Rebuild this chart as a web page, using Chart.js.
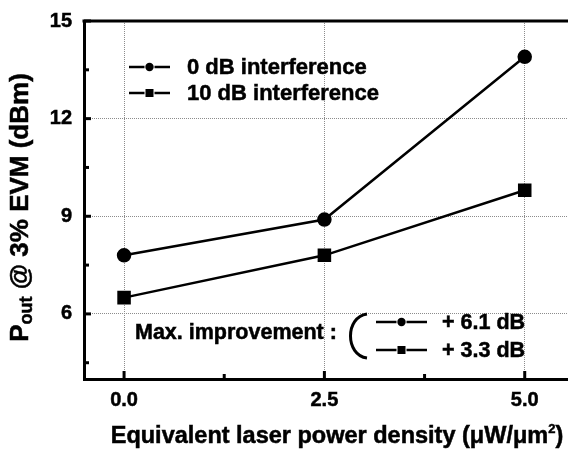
<!DOCTYPE html>
<html>
<head>
<meta charset="utf-8">
<script src="https://cdn.jsdelivr.net/npm/chart.js@4/dist/chart.umd.min.js"></script>
<style>
    html, body { margin: 0; padding: 0; background: #fff; overflow: hidden; }
    #wrap { width: 568px; height: 449px; }
</style>
</head>
<body>
<div id="wrap"><canvas id="evm-chart" width="568" height="449"></canvas></div>
<script>
// Chart data
const laserDensity = [0.0, 2.5, 5.0];
const pout0dB = [7.8, 8.9, 13.9];
const pout10dB = [6.5, 7.8, 9.8];
const seriesNames = ['0 dB interference', '10 dB interference'];
const improvements = ['+ 6.1 dB', '+ 3.3 dB'];

// Axis ticks
const xTicks = [0.0, 2.5, 5.0];
const xMinorTicks = [1.25, 3.75];
const yTicks = [6, 9, 12, 15];
const yMinorTicks = [4.5, 7.5, 10.5, 13.5];

const FONT = '"Liberation Sans", Arial, Helvetica, sans-serif';

function toPoints(values) {
    return laserDensity.map((x, i) => ({ x: x, y: values[i] }));
}

// bold text with a thin outline so it looks as heavy as the original
function heavyText(ctx, text, x, y) {
    ctx.fillText(text, x, y);
    ctx.lineWidth = 0.5;
    ctx.strokeText(text, x, y);
}

// Draws the top frame line, inward tick marks, axis titles, legend and annotation
const decorations = {
    id: 'decorations',
    afterDraw(chart) {
        const ctx = chart.ctx;
        const area = chart.chartArea;
        const xs = chart.scales.x;
        const ys = chart.scales.y;

        ctx.save();
        ctx.strokeStyle = '#000';
        ctx.fillStyle = '#000';

        // top frame line
        ctx.lineWidth = 3;
        ctx.beginPath();
        ctx.moveTo(area.left - 1.5, area.top);
        ctx.lineTo(area.right, area.top);
        ctx.stroke();

        // inward ticks
        const tick = (x1, y1, x2, y2) => {
            ctx.beginPath();
            ctx.moveTo(x1, y1);
            ctx.lineTo(x2, y2);
            ctx.stroke();
        };
        ctx.lineWidth = 3;
        yTicks.forEach(v => { const y = ys.getPixelForValue(v); tick(area.left, y, area.left + 7, y); });
        yMinorTicks.forEach(v => { const y = ys.getPixelForValue(v); tick(area.left, y, area.left + 5, y); });
        xTicks.forEach(v => { const x = xs.getPixelForValue(v); tick(x, area.bottom, x, area.bottom - 8); });
        xMinorTicks.forEach(v => { const x = xs.getPixelForValue(v); tick(x, area.bottom, x, area.bottom - 5); });

        // y axis title with subscript
        ctx.save();
        ctx.translate(28, (72 + 343) / 2);
        ctx.rotate(-Math.PI / 2);
        ctx.textBaseline = 'alphabetic';
        ctx.textAlign = 'left';
        const big = 'bold 26px ' + FONT;
        const small = 'bold 18px ' + FONT;
        ctx.font = big;
        const wP = ctx.measureText('P').width;
        const rest = ' @ 3% EVM (dBm)';
        const wRest = ctx.measureText(rest).width;
        ctx.font = small;
        const wSub = ctx.measureText('out').width;
        let tx = -(wP + wSub + wRest) / 2;
        ctx.font = big;
        heavyText(ctx, 'P', tx, 0);
        tx += wP;
        ctx.font = small;
        heavyText(ctx, 'out', tx, 4);
        tx += wSub;
        ctx.font = big;
        heavyText(ctx, rest, tx, 0);
        ctx.restore();

        // x axis title with superscript
        const xa = 'Equivalent laser power density (\u03bcW/\u03bcm';
        ctx.font = 'bold 23.5px ' + FONT;
        const wA = ctx.measureText(xa).width;
        const wClose = ctx.measureText(')').width;
        ctx.font = 'bold 13px ' + FONT;
        const wSup = ctx.measureText('2').width;
        let sx = 337 - (wA + wSup + wClose) / 2;
        ctx.textBaseline = 'alphabetic';
        ctx.font = 'bold 23.5px ' + FONT;
        heavyText(ctx, xa, sx, 443);
        sx += wA;
        ctx.font = 'bold 13px ' + FONT;
        heavyText(ctx, '2', sx, 433);
        sx += wSup;
        ctx.font = 'bold 23.5px ' + FONT;
        heavyText(ctx, ')', sx, 443);

        // line + marker sample, as in the legend
        const sample = (x1, x2, y, style) => {
            const mid = (x1 + x2) / 2;
            ctx.lineWidth = 2.5;
            tick(x1, y, mid - 5, y);
            tick(mid + 5, y, x2, y);
            ctx.beginPath();
            if (style === 'circle') {
                ctx.arc(mid, y, 4.2, 0, Math.PI * 2);
            } else {
                ctx.rect(mid - 4, y - 4, 8, 8);
            }
            ctx.fill();
        };
        const styles = chart.data.datasets.map(d => d.pointStyle);

        // legend
        ctx.font = 'bold 22px ' + FONT;
        ctx.textBaseline = 'middle';
        const legendRows = [67, 93];
        seriesNames.forEach((name, i) => {
            sample(129, 170, legendRows[i], styles[i]);
            heavyText(ctx, name, 187, legendRows[i] + 1);
        });

        // max improvement annotation
        ctx.font = 'bold 21.5px ' + FONT;
        heavyText(ctx, 'Max. improvement :', 135, 333);
        ctx.lineWidth = 3;
        ctx.beginPath();
        ctx.moveTo(367, 314);
        ctx.bezierCurveTo(345, 317, 345, 355, 367, 358);
        ctx.stroke();
        const annRows = [322, 350];
        improvements.forEach((txt, i) => {
            sample(376, 427, annRows[i], styles[i]);
            heavyText(ctx, txt, 442, annRows[i] + 1);
        });

        ctx.restore();
    }
};

Chart.defaults.color = '#000';
Chart.defaults.font.family = FONT;

new Chart(document.getElementById('evm-chart'), {
    type: 'line',
    data: {
        datasets: [
            {
                label: seriesNames[0],
                data: toPoints(pout0dB),
                borderColor: '#000',
                backgroundColor: '#000',
                borderWidth: 2.5,
                pointStyle: 'circle',
                pointRadius: 6,
                tension: 0
            },
            {
                label: seriesNames[1],
                data: toPoints(pout10dB),
                borderColor: '#000',
                backgroundColor: '#000',
                borderWidth: 2.5,
                pointStyle: 'rect',
                pointRadius: 7.8,
                tension: 0
            }
        ]
    },
    options: {
        responsive: false,
        animation: false,
        layout: {
            autoPadding: false,
            padding: { top: 21, right: 0, bottom: 0, left: 0 }
        },
        plugins: {
            legend: { display: false },
            tooltip: { enabled: false }
        },
        scales: {
            x: {
                type: 'linear',
                min: -0.5,
                max: 5.54,
                afterBuildTicks: scale => { scale.ticks = xTicks.map(v => ({ value: v })); },
                afterFit: scale => {
                    scale.height = 70;
                    scale.paddingLeft = 0;
                    scale.paddingRight = 0;
                },
                ticks: {
                    padding: 9,
                    font: { size: 20, weight: 'bold' },
                    textStrokeColor: '#000',
                    textStrokeWidth: 0.5,
                    callback: value => Number(value).toFixed(1)
                },
                grid: { color: '#8c8c8c', lineWidth: 1, drawTicks: false },
                border: { display: true, color: '#000', width: 3, dash: [1, 1] }
            },
            y: {
                min: 4,
                max: 15,
                afterBuildTicks: scale => { scale.ticks = yTicks.map(v => ({ value: v })); },
                afterFit: scale => {
                    scale.width = 84;
                    scale.paddingTop = 0;
                    scale.paddingBottom = 0;
                },
                ticks: {
                    padding: 12,
                    font: { size: 20, weight: 'bold' },
                    textStrokeColor: '#000',
                    textStrokeWidth: 0.5
                },
                grid: { color: '#8c8c8c', lineWidth: 1, drawTicks: false },
                border: { display: true, color: '#000', width: 3, dash: [1, 1] }
            }
        }
    },
    plugins: [decorations]
});
</script>
</body>
</html>
